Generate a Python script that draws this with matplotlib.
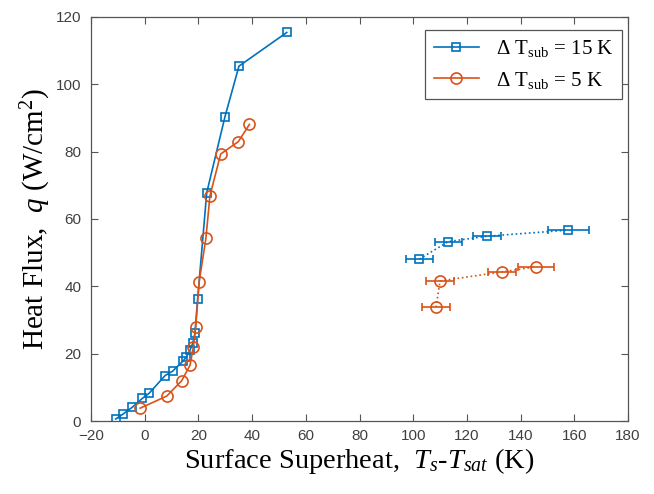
import numpy as np
import matplotlib.pyplot as plt

plt.rcParams['mathtext.fontset'] = 'custom'
plt.rcParams['mathtext.rm'] = 'Liberation Serif'
plt.rcParams['mathtext.it'] = 'Liberation Serif:italic'

# dT_sub = 15 K, boiling curve
x15 = [-10.8, -8.0, -4.6, -0.9, 1.6, 7.6, 10.4, 14.4, 15.4, 16.9, 17.9, 18.7, 19.7, 23.1, 29.9, 35.1, 52.9]
q15 = [0.6, 2.1, 4.1, 6.7, 8.2, 13.5, 14.8, 17.9, 18.9, 21.1, 23.1, 26.0, 36.1, 67.8, 90.4, 105.4, 115.4]
# dT_sub = 5 K, boiling curve
x5 = [-1.7, 8.2, 13.8, 16.9, 18.1, 19.0, 20.3, 22.8, 24.3, 28.3, 34.9, 39.0]
q5 = [3.8, 7.4, 12.0, 16.6, 21.9, 28.0, 41.4, 54.3, 66.9, 79.3, 83.0, 88.1]

# right-hand points with horizontal error bars
x15e = [102.3, 113.1, 127.6, 157.8]
q15e = [48.1, 53.3, 54.9, 56.7]
err15 = [5.0, 5.0, 5.2, 7.6]
x5e = [108.5, 110.0, 133.2, 145.7]
q5e = [33.8, 41.6, 44.3, 45.8]
err5 = [5.1, 5.3, 5.2, 6.6]

blue = '#0072BD'
orange = '#D95319'
gray = '#555555'

fig = plt.figure(figsize=(6.54, 4.94), dpi=100)
ax = fig.add_axes([91/654, 1-421/494, 537/654, 404/494])

ax.plot(x15, q15, '-s', color=blue, mfc='none', ms=5.5, mew=1.2, lw=1.2,
        label=r'$\Delta$ T$_{\mathrm{sub}}$ = 15 K')
ax.plot(x5, q5, '-o', color=orange, mfc='none', ms=8, mew=1.2, lw=1.2,
        label=r'$\Delta$ T$_{\mathrm{sub}}$ = 5 K')

ax.errorbar(x15e, q15e, xerr=err15, fmt='s:', color=blue, mfc='none', ms=5.5,
            mew=1.2, lw=1.2, capsize=3, elinewidth=1.2)
ax.errorbar(x5e, q5e, xerr=err5, fmt='o:', color=orange, mfc='none', ms=8,
            mew=1.2, lw=1.2, capsize=3, elinewidth=1.2)

ax.set_xlim(-20, 180)
ax.set_ylim(0, 120)
ax.set_xticks(range(-20, 181, 20))
ax.set_yticks(range(0, 121, 20))
ax.tick_params(direction='in', top=True, right=True, length=5, width=0.8,
               colors=gray, labelsize=11)
ax.tick_params(axis='y', pad=7)
ax.tick_params(axis='x', pad=6)
for lab in ax.get_xticklabels() + ax.get_yticklabels():
    lab.set_family('Liberation Sans')
    lab.set_color('#404040')
for s in ax.spines.values():
    s.set_color(gray)
    s.set_linewidth(0.9)

ax.set_xlabel(r'Surface Superheat,  $T_s$-$T_{sat}$ (K)', fontsize=20.5,
              family='Liberation Serif', labelpad=2)
ax.set_ylabel(r'Heat Flux,  $q$ (W/cm$^2$)', fontsize=21,
              family='Liberation Serif', labelpad=2)

leg = ax.legend(loc='upper right', prop={'family': 'Liberation Serif', 'size': 15},
                fancybox=False, edgecolor=gray, framealpha=1,
                handlelength=2.2, borderaxespad=0,
                bbox_to_anchor=(622/654, 1-30/494), bbox_transform=fig.transFigure)
leg.get_frame().set_linewidth(0.9)

plt.savefig('out.png')
